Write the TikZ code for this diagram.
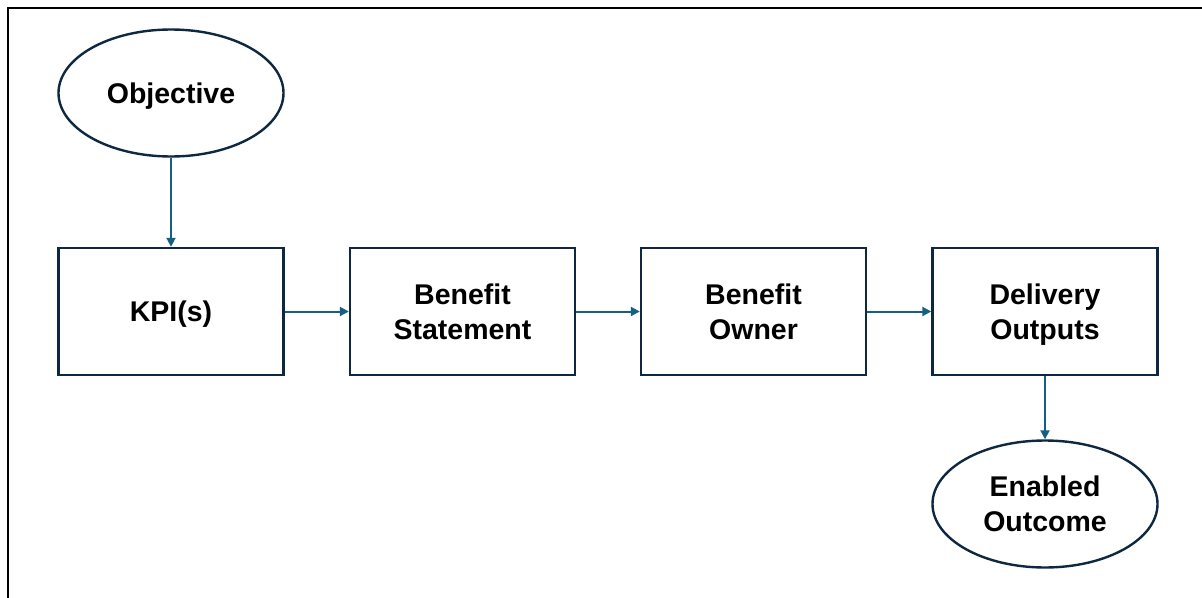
\documentclass[tikz,border=0pt]{standalone}
\usepackage{fontspec}
\setmainfont{Liberation Sans}
\usetikzlibrary{arrows.meta,shapes.geometric}
\definecolor{edgec}{HTML}{0E2841}
\definecolor{arrc}{HTML}{156082}
\newcommand\ntext[1]{\raisebox{-3pt}[\height][\depth]{\begin{tabular}{@{}c@{}}#1\end{tabular}}}
\tikzset{
  box/.style={draw=edgec,line width=2.4pt,minimum width=225pt,minimum height=127pt,inner sep=0pt,font=\bfseries\fontsize{28.5}{35}\selectfont},
  oval/.style={ellipse,draw=edgec,line width=2.4pt,minimum width=225pt,minimum height=127pt,inner sep=0pt,font=\bfseries\fontsize{28.5}{35}\selectfont},
  conn/.style={draw=arrc,line width=2pt,-{Triangle[length=9pt,width=9pt]}}
}
\begin{document}
\begin{tikzpicture}[x=1pt,y=-1pt]
\useasboundingbox (0,0) rectangle (1202,597);
\draw[line width=2.8pt] (8,600) -- (8,8) -- (1205,8);
\node[oval] (obj) at (171,93) {\ntext{Objective}};
\node[box] (kpi) at (171,311.5) {\ntext{KPI(s)}};
\node[box] (bs) at (462.5,311.5) {\ntext{Benefit\\Statement}};
\node[box] (bo) at (753.5,311.5) {\ntext{Benefit\\Owner}};
\node[box] (do) at (1045,311.5) {\ntext{Delivery\\Outputs}};
\node[oval] (eo) at (1045,504) {\ntext{Enabled\\Outcome}};
\draw[conn] (obj) -- (kpi);
\draw[conn] (kpi) -- (bs);
\draw[conn] (bs) -- (bo);
\draw[conn] (bo) -- (do);
\draw[conn] (do) -- (eo);
\end{tikzpicture}
\end{document}
